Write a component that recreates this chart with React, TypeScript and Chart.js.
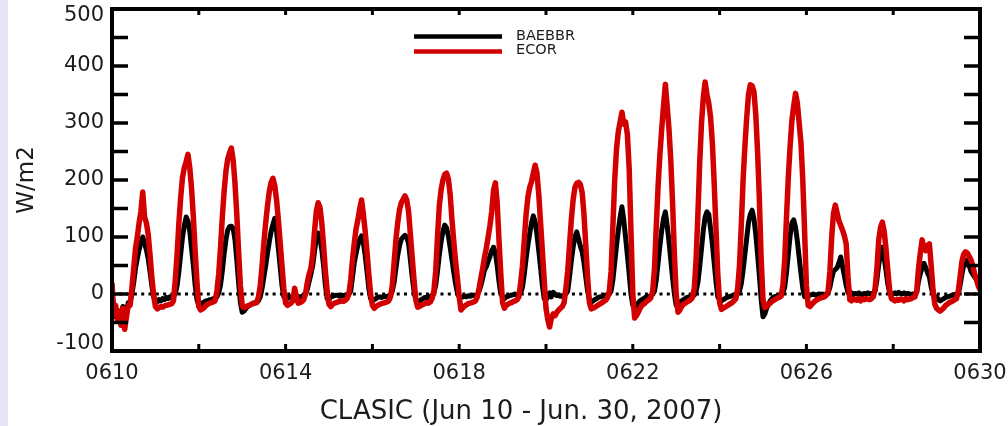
import React, { useEffect, useRef } from "react";
import { Chart, registerables } from "chart.js";

Chart.register(...registerables);

// ---- data -------------------------------------------------------------
const SERIES_NAMES = ["BAEBBR", "ECOR"];
const SERIES_COLORS = ["#000000", "#d20000"];
const xTickLabels = ["0610", "0614", "0618", "0622", "0626", "0630"];
const xAxisTitle = "CLASIC (Jun 10 - Jun. 30, 2007)";
const yAxisTitle = "W/m2";
const SAMPLES_PER_DAY = 24; // hourly samples, day 0 = Jun 10 00 UTC
const DAY_COUNT = 20;

// BAEBBR (black), one row per day, hourly
const baebbr: number[] = [
  -5, -20, -40, -30, -48, -35, -22, -45, -30, -15, -15, 0, 20, 45, 62, 78, 90, 100, 88, 78, 62, 40, 15, -5,
  -12, -14, -10, -12, -8, -10, -6, -8, -5, -6, -4, 0, 15, 40, 70, 100, 120, 135, 128, 110, 80, 50, 15, -10,
  -20, -22, -16, -14, -12, -12, -10, -10, -8, -8, -5, 2, 15, 40, 70, 95, 112, 118, 119, 115, 95, 60, 20, -15,
  -32, -30, -26, -22, -20, -18, -16, -15, -14, -12, -5, 10, 30, 50, 72, 92, 110, 122, 133, 110, 80, 48, 15, -5,
  -5, -8, -6, -5, -4, 0, -3, -6, -5, -4, -3, 0, 8, 22, 35, 50, 75, 97, 107, 98, 78, 50, 15, -8,
  -10, -5, -4, -3, -2, -3, -4, -2, -3, -2, -1, 0, 5, 30, 55, 72, 86, 96, 102, 90, 68, 40, 10, -8,
  -12, -10, -8, -6, -5, -6, -5, -4, -5, -3, -2, 5, 20, 45, 68, 85, 96, 100, 103, 100, 88, 60, 30, 5,
  -10, -15, -12, -10, -8, -6, -7, -5, -4, -3, 2, 15, 40, 68, 92, 110, 121, 116, 102, 82, 60, 38, 18, 2,
  -5, -6, -5, -4, -5, -3, -4, -3, -2, -2, -1, 5, 15, 28, 42, 48, 57, 66, 76, 82, 72, 50, 22, 0,
  -5, -8, -5, -4, -3, -2, -1, 0, -2, -1, 2, 12, 35, 62, 86, 106, 125, 137, 127, 104, 76, 46, 15, -8,
  -10, -5, 2, -5, 3, 0, -3, -2, -4, -3, -2, 0, 5, 30, 58, 82, 100, 109, 97, 84, 74, 55, 30, 5,
  -10, -15, -12, -10, -8, -6, -5, -4, -3, -2, -1, 0, 5, 25, 55, 85, 112, 135, 153, 130, 100, 68, 35, 0,
  -20, -25, -20, -16, -12, -10, -8, -6, -5, -4, -3, 0, 5, 25, 55, 85, 112, 132, 144, 120, 92, 60, 28, 0,
  -20, -18, -15, -12, -10, -8, -6, -5, -4, -3, -2, 5, 20, 48, 80, 112, 135, 144, 140, 115, 88, 55, 22, -5,
  -10, -12, -10, -8, -6, -5, -4, -3, -2, -1, 0, 5, 18, 42, 70, 98, 126, 140, 147, 132, 105, 70, 32, -10,
  -40, -35, -25, -18, -12, -8, -5, -4, -3, -2, -1, 2, 12, 38, 70, 102, 125, 130, 117, 93, 64, 36, 10, -5,
  -5, -3, -2, -1, 0, -2, -1, 0, -1, 0, -2, 0, 2, 12, 28, 40, 43, 46, 55, 65, 48, 32, 15, 2,
  0, 2, -1, 1, 0, 2, 0, -1, 1, 0, 2, 0, 1, 0, 5, 25, 52, 70, 82, 63, 42, 18, 2, 0,
  0, 2, 0, 3, 1, 0, 2, 0, 1, 0, -1, 0, 0, 3, 22, 36, 46, 54, 46, 37, 30, 12, 0, -5,
  -5, -10, -12, -10, -8, -6, -5, -4, -3, -2, -1, 0, 0, 15, 35, 50, 58, 60, 50, 40, 35, 30, 25, 20,
  15,
];

// ECOR (red), one row per day, hourly
const ecor: number[] = [
  20, -35, -20, -45, -30, -55, -25, -62, -40, -20, -20, 10, 45, 80, 100, 125, 145, 179, 135, 125, 105, 70, 30, 0,
  -22, -26, -24, -22, -23, -21, -20, -19, -18, -17, -12, 25, 70, 125, 170, 205, 222, 232, 245, 222, 185, 135, 75, 20,
  -22, -28, -26, -24, -20, -18, -16, -15, -14, -12, 5, 35, 80, 135, 180, 215, 237, 248, 256, 235, 195, 140, 75, 15,
  -20, -24, -22, -21, -20, -18, -17, -16, -15, -5, 15, 50, 90, 125, 155, 180, 196, 203, 190, 165, 130, 90, 50, 10,
  -16, -20, -18, -16, -12, 10, -5, -16, -15, -13, -10, 0, 20, 35, 45, 70, 110, 145, 160, 152, 125, 85, 40, 5,
  -18, -22, -18, -16, -15, -14, -13, -12, -13, -11, -8, 0, 25, 60, 90, 115, 130, 150, 165, 140, 110, 75, 35, 0,
  -20, -25, -22, -20, -18, -17, -16, -15, -14, -12, -5, 15, 55, 95, 125, 148, 160, 166, 172, 165, 145, 105, 65, 25,
  -10, -23, -22, -20, -18, -17, -15, -16, -14, -8, 5, 40, 100, 155, 183, 200, 210, 212, 202, 175, 130, 92, 58, 28,
  -5, -28, -24, -21, -19, -17, -16, -15, -14, -12, -5, 10, 28, 45, 65, 80, 100, 120, 145, 182, 195, 160, 95, 35,
  -15, -25, -20, -18, -16, -15, -13, -12, -10, -5, 20, 50, 95, 140, 170, 187, 197, 212, 226, 212, 175, 125, 75, 25,
  -25, -45, -58, -42, -35, -38, -32, -28, -25, -22, -15, 10, 40, 85, 130, 165, 187, 194, 196, 192, 178, 140, 85, 30,
  -15, -26, -25, -23, -21, -19, -17, -15, -13, -11, -6, 5, 40, 120, 200, 255, 285, 302, 319, 298, 302, 280, 220, 110,
  0, -42, -38, -32, -25, -20, -18, -15, -12, -10, -6, 5, 45, 120, 190, 245, 290, 330, 368, 330, 290, 235, 160, 70,
  0, -32, -28, -22, -18, -16, -14, -12, -10, -6, 10, 60, 140, 230, 300, 345, 372, 350, 335, 310, 265, 195, 115, 35,
  -15, -27, -25, -23, -21, -19, -17, -15, -12, -8, 10, 50, 120, 200, 260, 310, 350, 367, 365, 355, 315, 250, 165, 60,
  -10, -24, -22, -19, -16, -13, -11, -9, -7, -6, -4, 15, 60, 135, 205, 260, 305, 330, 352, 335, 300, 265, 200, 110,
  15, -20, -22, -18, -15, -12, -10, -8, -7, -6, -5, -2, 5, 40, 100, 142, 156, 142, 128, 120, 112, 102, 88, 30,
  -10, -12, -9, -10, -11, -8, -12, -9, -10, -8, -9, -10, -8, -5, 10, 45, 95, 117, 126, 110, 80, 42, 8, -8,
  -10, -12, -10, -11, -9, -10, -12, -8, -10, -9, -8, -6, -5, 5, 45, 72, 95, 80, 76, 85, 88, 50, 8, -18,
  -25, -28, -30, -27, -24, -20, -18, -15, -14, -12, -10, -8, 5, 30, 57, 70, 74, 72, 66, 60, 50, 36, 26, 15,
  7,
];

const FONT = "'DejaVu Sans', sans-serif";
const TEXT = "#1c1c1c";

export default function App() {
  const ref = useRef<HTMLCanvasElement | null>(null);

  useEffect(() => {
    if (!ref.current) return;
    const toPoints = (arr: number[]) =>
      arr.map((y, i) => ({ x: i / SAMPLES_PER_DAY, y }));

    const decor = {
      id: "decor",
      beforeDraw(chart: any) {
        // keep the top and bottom y labels inside the frame, as in the reference
        const ys = chart.scales.y;
        const items = ys.getLabelItems(chart.chartArea);
        if (items && items.length) {
          const first = items[0];
          const last = items[items.length - 1];
          if (first?.options?.translation) first.options.translation[1] -= 7;
          if (last?.options?.translation) last.options.translation[1] += 7;
        }
      },
      beforeDatasetsDraw(chart: any) {
        const { ctx, chartArea: a, scales } = chart;
        const y0 = scales.y.getPixelForValue(0);
        ctx.save();
        ctx.strokeStyle = "#000";
        ctx.lineWidth = 3;
        ctx.setLineDash([3, 4.3]);
        ctx.beginPath();
        ctx.moveTo(a.left, y0);
        ctx.lineTo(a.right, y0);
        ctx.stroke();
        ctx.restore();
      },
      afterDatasetsDraw(chart: any) {
        const { ctx, chartArea: a, scales } = chart;
        ctx.save();
        ctx.strokeStyle = "#000";
        // frame
        ctx.lineWidth = 4;
        ctx.strokeRect(a.left, a.top, a.right - a.left, a.bottom - a.top);
        // y ticks (inward, both sides)
        ctx.lineWidth = 3.5;
        for (let v = -50; v < 500; v += 50) {
          const p = scales.y.getPixelForValue(v);
          ctx.beginPath();
          ctx.moveTo(a.left, p);
          ctx.lineTo(a.left + 16, p);
          ctx.moveTo(a.right, p);
          ctx.lineTo(a.right - 16, p);
          ctx.stroke();
        }
        // x ticks (inward, top and bottom)
        ctx.lineWidth = 3;
        for (let d = 2; d < DAY_COUNT; d += 2) {
          const p = scales.x.getPixelForValue(d);
          ctx.beginPath();
          ctx.moveTo(p, a.bottom);
          ctx.lineTo(p, a.bottom - 7);
          ctx.moveTo(p, a.top);
          ctx.lineTo(p, a.top + 6);
          ctx.stroke();
        }
        ctx.restore();
      },
      afterDraw(chart: any) {
        const { ctx } = chart;
        ctx.save();
        // legend
        const rows = [
          { y: 36.5, ty: 40 },
          { y: 51.5, ty: 53.5 },
        ];
        rows.forEach((r, i) => {
          ctx.strokeStyle = SERIES_COLORS[i];
          ctx.lineWidth = 4.5;
          ctx.beginPath();
          ctx.moveTo(414, r.y);
          ctx.lineTo(502, r.y);
          ctx.stroke();
          ctx.fillStyle = TEXT;
          ctx.font = `14.5px ${FONT}`;
          ctx.textAlign = "left";
          ctx.textBaseline = "alphabetic";
          ctx.fillText(SERIES_NAMES[i], 516, r.ty);
        });
        // x axis title
        ctx.fillStyle = TEXT;
        ctx.font = `26px ${FONT}`;
        ctx.textAlign = "center";
        ctx.textBaseline = "alphabetic";
        ctx.fillText(xAxisTitle, 521, 419);
        ctx.restore();
      },
    };

    const chart = new Chart(ref.current, {
      type: "line",
      data: {
        datasets: [
          {
            label: SERIES_NAMES[1],
            data: toPoints(ecor),
            borderColor: SERIES_COLORS[1],
            borderWidth: 5.5,
            borderJoinStyle: "round",
            pointRadius: 0,
            tension: 0,
            order: 1,
          },
          {
            label: SERIES_NAMES[0],
            data: toPoints(baebbr),
            borderColor: SERIES_COLORS[0],
            borderWidth: 5,
            borderJoinStyle: "round",
            pointRadius: 0,
            tension: 0,
            order: 2,
          },
        ],
      },
      options: {
        animation: false,
        responsive: false,
        devicePixelRatio: 1,
        layout: { padding: { top: 9, right: 28, left: 0, bottom: 0 } },
        plugins: {
          legend: { display: false },
          tooltip: { enabled: false },
        },
        scales: {
          x: {
            type: "linear",
            min: 0,
            max: DAY_COUNT,
            grid: { display: false, drawTicks: false },
            border: { display: false },
            ticks: {
              stepSize: 4,
              autoSkip: false,
              maxRotation: 0,
              padding: 10,
              color: TEXT,
              font: { family: FONT, size: 21 },
              callback: (v: any) => xTickLabels[Math.round(Number(v) / 4)] ?? "",
            },
            afterFit: (s: any) => {
              s.height = 75;
              s.paddingLeft = 0;
              s.paddingRight = 0;
            },
          },
          y: {
            min: -100,
            max: 500,
            grid: { display: false, drawTicks: false },
            border: { display: false },
            ticks: {
              stepSize: 100,
              padding: 8,
              color: TEXT,
              font: { family: FONT, size: 21 },
              callback: (v: any) => String(v),
            },
            title: {
              display: true,
              text: yAxisTitle,
              color: TEXT,
              font: { family: FONT, size: 23 },
              padding: { top: 13, bottom: 0 },
            },
            afterFit: (s: any) => {
              s.width = 112;
              s.paddingTop = 0;
              s.paddingBottom = 0;
            },
          },
        },
      },
      plugins: [decor],
    });
    return () => chart.destroy();
  }, []);

  return (
    <div
      style={{
        position: "fixed",
        left: 0,
        top: 0,
        width: 1008,
        height: 426,
        background: "linear-gradient(to right, #e6e6f8 0px, #e6e6f8 8px, #ffffff 8px)",
      }}
    >
      <canvas
        ref={ref}
        width={1008}
        height={426}
        style={{ display: "block", width: 1008, height: 426 }}
      />
    </div>
  );
}
